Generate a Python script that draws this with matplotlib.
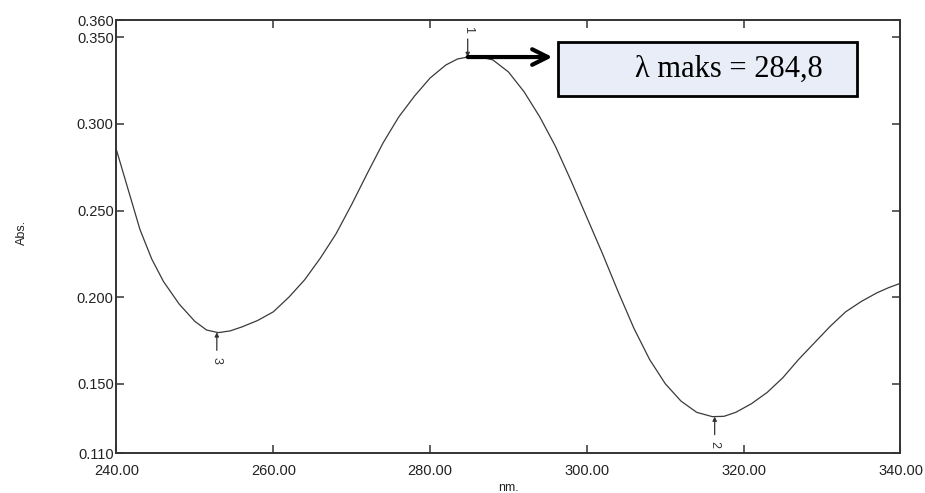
import matplotlib
matplotlib.use("Agg")
import matplotlib.pyplot as plt
from matplotlib.patches import Rectangle
import numpy as np

# ---- data ----
wavelength_nm = [240, 241.5, 243, 244.5, 246, 248, 250, 251.5, 253, 254.5, 256, 258,
                 260, 262, 264, 266, 268, 270, 272, 274, 276, 278, 280, 282, 283.5,
                 285, 286.5, 288, 290, 292, 294, 296, 298, 300, 302, 304, 306, 308,
                 310, 312, 314, 316, 317.5, 319, 321, 323, 325, 327, 329, 331, 333,
                 335, 337, 338.5, 340]
absorbance = [0.285, 0.262, 0.239, 0.222, 0.209, 0.196, 0.186, 0.181, 0.1795, 0.1805,
              0.1828, 0.1865, 0.1915, 0.2000, 0.2100, 0.2225, 0.2365, 0.2535, 0.2715,
              0.2890, 0.3040, 0.3160, 0.3265, 0.3340, 0.3375, 0.3388, 0.3385, 0.3370,
              0.3300, 0.3185, 0.3040, 0.2870, 0.2670, 0.2460, 0.2250, 0.2030, 0.1820,
              0.1640, 0.1500, 0.1400, 0.1335, 0.1310, 0.1312, 0.1335, 0.1385, 0.1450,
              0.1535, 0.1640, 0.1735, 0.1830, 0.1915, 0.1975, 0.2025, 0.2055, 0.2080]

peak_labels = ["1", "2", "3"]
peak_nm = [284.8, 316.3, 252.8]
peak_is_max = [True, False, False]

x_ticks = [240, 260, 280, 300, 320, 340]
x_tick_labels = ["240.00", "260.00", "280.00", "300.00", "320.00", "340.00"]
y_ticks = [0.110, 0.150, 0.200, 0.250, 0.300, 0.350, 0.360]
y_tick_labels = ["0.110", "0.150", "0.200", "0.250", "0.300", "0.350", "0.360"]

lambda_text = "λ maks = 284,8"

# ---- figure ----
fig = plt.figure(figsize=(9.25, 4.93), dpi=100)
ax = fig.add_axes([0.1259, 0.0811, 0.8476, 0.8783])

ax.plot(wavelength_nm, absorbance, color="#3a3a3a", lw=0.9)
ax.set_xlim(240, 340)
ax.set_ylim(0.110, 0.360)

sans = ["Liberation Sans", "DejaVu Sans"]
ax.set_xticks(x_ticks)
ax.set_xticklabels(x_tick_labels, family=sans, fontsize=10.5, color="#222222")
ax.set_yticks(y_ticks)
ax.set_yticklabels(y_tick_labels, family=sans, fontsize=10.5, color="#222222")
ax.tick_params(axis="both", direction="in", length=6, width=1.1, color="#333333",
               top=True, right=True)
ax.tick_params(axis="x", pad=8)
ax.tick_params(axis="y", pad=2)
for s in ax.spines.values():
    s.set_linewidth(1.4)
    s.set_color("#333333")

ax.text(-0.12, 0.51, "Abs.", transform=ax.transAxes, rotation=90,
        ha="center", va="center", family=sans, fontsize=9, color="#222222")
ax.text(0.5, -0.08, "nm.", transform=ax.transAxes, ha="center", va="center",
        family=sans, fontsize=9, color="#222222")

# peak markers
for lab, xp, is_max in zip(peak_labels, peak_nm, peak_is_max):
    yp = float(np.interp(xp, wavelength_nm, absorbance))
    sgn = 1 if is_max else -1
    ax.annotate("", xy=(xp, yp), xytext=(0, sgn * 13), textcoords="offset points",
                arrowprops=dict(arrowstyle="-|>", lw=0.9, color="#333333",
                                mutation_scale=6, shrinkA=0, shrinkB=0))
    ax.annotate(lab, xy=(xp, yp), xytext=(0, sgn * 20), textcoords="offset points",
                rotation=-90, ha="center", va="center", family=sans,
                fontsize=9, color="#333333")

# lambda max box and arrow
box = Rectangle((0.563, 0.8245), 0.3815, 0.1245, transform=ax.transAxes,
                facecolor="#e9edf8", edgecolor="black", lw=2, zorder=5)
ax.add_patch(box)
ax.text(0.781, 0.887, lambda_text, transform=ax.transAxes, ha="center",
        va="center", family=["Liberation Serif", "DejaVu Serif"], fontsize=22,
        color="black", zorder=6)
ypk = float(np.interp(peak_nm[0], wavelength_nm, absorbance))
ax.annotate("", xy=(0.556, (ypk - 0.110) / 0.25), xycoords="axes fraction",
            xytext=(peak_nm[0], ypk), textcoords="data",
            arrowprops=dict(arrowstyle="->", lw=3, color="black",
                            mutation_scale=28, shrinkA=0, shrinkB=0))

fig.savefig("out.png", dpi=100)
